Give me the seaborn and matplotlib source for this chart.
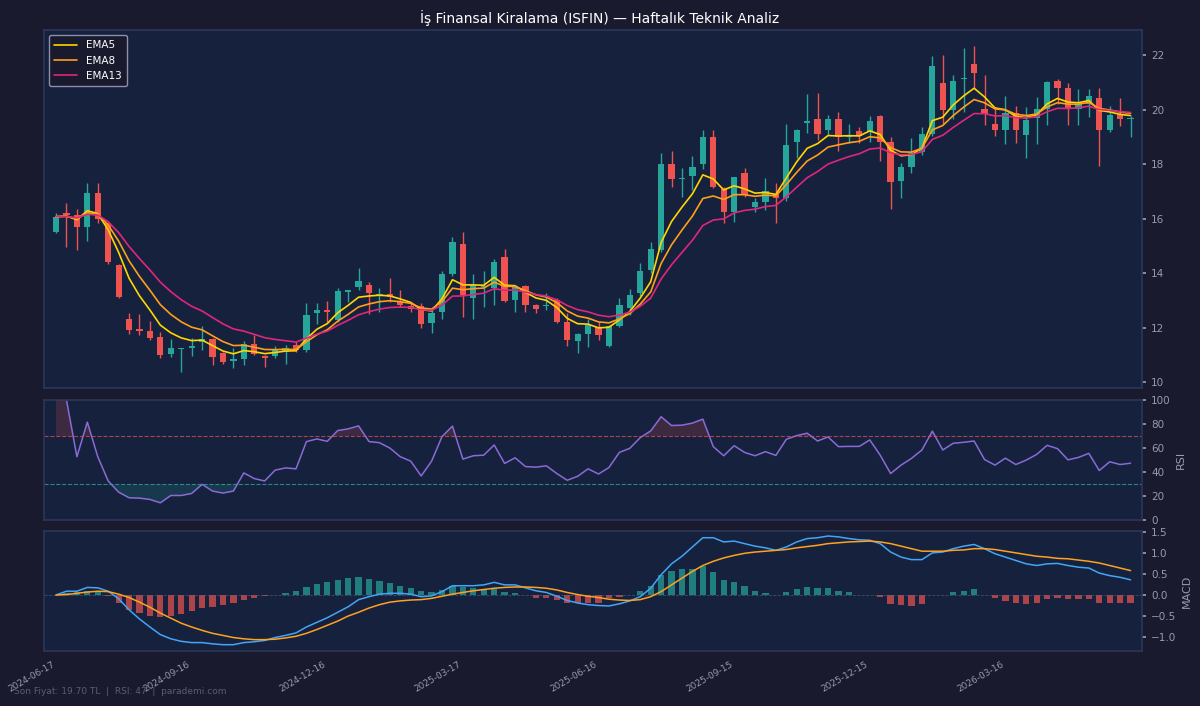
import numpy as np
import pandas as pd
import seaborn as sns
import matplotlib
matplotlib.use("Agg")
import matplotlib.pyplot as plt

# Weekly candles (TL)
opens = [
    15.52, 16.21, 16.13, 15.68, 16.95, 15.85, 14.30, 12.31, 11.94, 11.87,
    11.64, 11.03, 11.22, 11.24, 11.48, 11.58, 11.07, 10.76, 10.83, 11.41,
    10.97, 10.97, 11.12, 11.36, 11.17, 12.52, 12.64, 12.28, 13.30, 13.50,
    13.56, 13.20, 13.22, 12.95, 12.80, 12.80, 12.15, 12.58, 13.95, 15.06,
    13.07, 13.48, 13.44, 14.60, 13.00, 13.52, 12.83, 12.78, 13.00, 12.21,
    11.52, 11.77, 12.03, 11.32, 12.05, 12.71, 13.25, 14.10, 14.84, 18.00,
    17.45, 17.56, 18.00, 19.00, 17.07, 16.25, 17.66, 16.41, 16.62, 16.90,
    16.74, 18.82, 19.52, 19.64, 19.25, 19.64, 19.00, 19.20, 19.19, 19.76,
    18.80, 17.39, 17.90, 18.45, 19.10, 20.96, 19.98, 21.12, 21.67, 20.01,
    19.49, 19.27, 19.86, 19.06, 19.71, 20.01, 21.06, 20.81, 20.01, 20.20,
    20.41, 19.25, 19.80, 19.66,
]
highs = [
    16.19, 16.59, 16.34, 17.29, 17.29, 15.89, 14.33, 12.54, 12.49, 12.25,
    11.85, 11.57, 11.26, 11.60, 12.07, 11.60, 11.10, 11.24, 11.52, 11.72,
    11.00, 11.32, 11.36, 11.48, 12.89, 12.91, 12.99, 13.44, 13.39, 14.20,
    13.68, 13.44, 13.83, 13.39, 12.91, 12.91, 12.70, 14.07, 15.31, 15.49,
    13.97, 14.08, 14.51, 14.87, 13.56, 13.56, 12.85, 13.28, 13.07, 12.52,
    11.80, 12.30, 12.21, 12.09, 13.07, 13.40, 14.38, 15.15, 18.39, 18.49,
    17.84, 18.29, 19.27, 19.27, 17.15, 17.54, 17.84, 16.74, 17.48, 17.29,
    19.49, 19.30, 20.57, 20.62, 19.80, 19.90, 19.49, 19.37, 19.76, 19.82,
    19.00, 18.05, 18.94, 19.37, 21.96, 22.00, 21.27, 22.25, 22.33, 21.27,
    20.10, 20.50, 20.13, 20.08, 20.45, 21.06, 21.11, 20.98, 20.74, 20.74,
    20.81, 20.13, 20.41, 19.75,
]
lows = [
    15.46, 14.94, 14.84, 15.19, 15.82, 14.35, 13.08, 11.76, 11.72, 11.56,
    10.87, 10.93, 10.36, 10.96, 11.17, 10.62, 10.65, 10.50, 10.62, 11.00,
    10.56, 10.87, 10.68, 11.12, 11.12, 12.13, 12.21, 12.21, 12.95, 13.39,
    12.48, 12.58, 12.95, 12.77, 12.58, 11.97, 11.81, 12.30, 13.89, 12.40,
    12.30, 12.77, 12.81, 12.95, 12.58, 12.58, 12.52, 12.64, 12.15, 11.32,
    11.05, 11.30, 11.56, 11.30, 12.03, 12.46, 13.14, 14.01, 14.78, 17.15,
    16.80, 17.05, 17.81, 17.11, 15.82, 15.89, 16.78, 16.25, 16.31, 15.82,
    16.66, 18.21, 19.13, 18.88, 19.06, 18.49, 18.76, 18.76, 18.82, 18.12,
    16.34, 16.74, 17.68, 18.32, 19.03, 19.49, 19.64, 19.90, 20.81, 19.44,
    19.03, 18.73, 18.78, 18.21, 18.73, 19.44, 20.20, 19.43, 19.43, 19.74,
    17.93, 19.19, 19.39, 18.98,
]
closes = [
    16.07, 16.13, 15.70, 16.95, 15.97, 14.39, 13.11, 11.91, 11.87, 11.60,
    10.98, 11.24, 11.25, 11.32, 11.58, 10.93, 10.74, 10.83, 11.39, 11.03,
    10.90, 11.17, 11.24, 11.17, 12.46, 12.64, 12.56, 13.34, 13.36, 13.71,
    13.25, 13.24, 13.11, 12.83, 12.67, 12.13, 12.52, 13.95, 15.15, 13.19,
    13.56, 13.53, 14.42, 12.98, 13.50, 12.81, 12.67, 12.82, 12.21, 11.54,
    11.75, 12.09, 11.72, 12.05, 12.83, 13.19, 14.08, 14.87, 18.00, 17.44,
    17.48, 17.88, 19.00, 17.15, 16.25, 17.51, 16.86, 16.62, 17.01, 16.74,
    18.70, 19.27, 19.57, 19.10, 19.64, 19.00, 19.06, 19.02, 19.59, 18.82,
    17.35, 17.90, 18.41, 19.10, 21.60, 19.98, 21.06, 21.17, 21.35, 19.83,
    19.25, 19.86, 19.27, 19.61, 20.04, 21.00, 20.81, 20.01, 20.20, 20.50,
    19.25, 19.80, 19.64, 19.70,
]

rsi_vals = [
    100, 100, 52.7, 81.5, 52.7, 32.5, 23.2, 18.5, 18.2, 17.1,
    14.3, 20.4, 20.4, 22.1, 29.7, 24.1, 22.4, 24.1, 39.2, 34.5,
    32.5, 41.5, 43.4, 42.6, 65.3, 67.5, 65.5, 74.5, 75.9, 78.4,
    65.3, 64.4, 59.9, 52.7, 49.0, 36.7, 49.0, 69.5, 78.2, 50.7,
    53.5, 54.0, 62.5, 47.1, 51.8, 44.5, 44.0, 45.1, 38.7, 33.1,
    36.4, 42.6, 38.3, 43.7, 56.3, 59.7, 68.6, 74.2, 86.0, 78.7,
    79.0, 80.7, 84.0, 61.1, 53.5, 61.9, 56.3, 53.5, 56.9, 53.8,
    67.2, 70.3, 72.3, 65.8, 69.2, 61.1, 61.3, 61.3, 66.7, 54.0,
    38.7, 45.7, 51.3, 58.3, 74.0, 58.3, 63.9, 64.7, 65.8, 50.4,
    45.7, 51.5, 46.2, 49.9, 54.6, 62.2, 59.4, 50.1, 52.1, 55.5,
    41.2, 48.5, 46.2, 47.3,
]
macd_vals = [
    0.00, 0.09, 0.09, 0.18, 0.17, 0.09, -0.09, -0.35, -0.57, -0.76,
    -0.94, -1.04, -1.10, -1.13, -1.13, -1.16, -1.18, -1.18, -1.13, -1.11,
    -1.08, -1.01, -0.96, -0.90, -0.76, -0.65, -0.54, -0.41, -0.28, -0.11,
    -0.04, 0.02, 0.04, 0.04, 0.02, -0.04, -0.02, 0.08, 0.22, 0.22,
    0.22, 0.24, 0.30, 0.24, 0.24, 0.17, 0.10, 0.06, -0.03, -0.13,
    -0.19, -0.23, -0.25, -0.26, -0.21, -0.14, -0.04, 0.16, 0.48, 0.74,
    0.92, 1.14, 1.36, 1.36, 1.26, 1.28, 1.22, 1.16, 1.12, 1.06,
    1.14, 1.26, 1.34, 1.36, 1.40, 1.38, 1.34, 1.31, 1.30, 1.22,
    1.02, 0.90, 0.84, 0.84, 1.00, 1.02, 1.10, 1.16, 1.20, 1.10,
    0.98, 0.90, 0.82, 0.74, 0.70, 0.74, 0.75, 0.70, 0.66, 0.64,
    0.52, 0.46, 0.42, 0.36,
]
signal_vals = [
    0.00, 0.01, 0.04, 0.07, 0.09, 0.08, 0.02, -0.06, -0.17, -0.29,
    -0.43, -0.55, -0.67, -0.76, -0.84, -0.91, -0.96, -1.01, -1.04, -1.06,
    -1.06, -1.05, -1.02, -0.98, -0.91, -0.82, -0.72, -0.62, -0.50, -0.41,
    -0.31, -0.23, -0.17, -0.14, -0.12, -0.11, -0.08, -0.03, 0.02, 0.06,
    0.10, 0.13, 0.16, 0.18, 0.19, 0.19, 0.18, 0.16, 0.12, 0.06,
    0.01, -0.03, -0.06, -0.10, -0.12, -0.13, -0.11, -0.04, 0.08, 0.24,
    0.40, 0.56, 0.70, 0.80, 0.88, 0.94, 0.99, 1.02, 1.04, 1.06,
    1.08, 1.12, 1.15, 1.18, 1.22, 1.24, 1.26, 1.27, 1.28, 1.26,
    1.22, 1.16, 1.10, 1.04, 1.04, 1.04, 1.06, 1.07, 1.10, 1.10,
    1.08, 1.04, 1.00, 0.96, 0.92, 0.90, 0.87, 0.86, 0.83, 0.80,
    0.76, 0.70, 0.64, 0.58,
]
hist_vals = [
    0.01, 0.04, 0.06, 0.10, 0.09, -0.03, -0.19, -0.35, -0.43, -0.49,
    -0.53, -0.50, -0.45, -0.39, -0.31, -0.28, -0.24, -0.20, -0.13, -0.06,
    -0.03, 0.01, 0.04, 0.09, 0.20, 0.26, 0.30, 0.36, 0.40, 0.43,
    0.39, 0.34, 0.28, 0.22, 0.17, 0.09, 0.06, 0.13, 0.22, 0.20,
    0.16, 0.12, 0.14, 0.06, 0.05, 0.00, -0.06, -0.07, -0.13, -0.19,
    -0.20, -0.20, -0.18, -0.08, -0.05, -0.01, 0.10, 0.22, 0.48, 0.58,
    0.62, 0.62, 0.68, 0.54, 0.36, 0.30, 0.22, 0.10, 0.04, 0.00,
    0.06, 0.14, 0.18, 0.16, 0.16, 0.10, 0.06, 0.00, 0.00, -0.04,
    -0.22, -0.24, -0.26, -0.22, 0.00, 0.00, 0.06, 0.10, 0.14, 0.00,
    -0.08, -0.14, -0.18, -0.22, -0.18, -0.10, -0.06, -0.10, -0.10, -0.10,
    -0.18, -0.18, -0.18, -0.18,
]

start_date = "2024-06-17"
tick_every = 13
ema_spans = [5, 8, 13]

BG = "#1a1a2e"
PANEL = "#16213e"
UP = "#26a69a"
DOWN = "#ef5350"
TXT = "#9a9aae"
EDGE = "#2b3556"

sns.set_theme(style="dark", rc={
    "figure.facecolor": BG, "axes.facecolor": PANEL, "axes.edgecolor": EDGE,
    "xtick.color": TXT, "ytick.color": TXT, "axes.labelcolor": TXT,
    "text.color": "white", "patch.edgecolor": "none",
})
plt.rcParams["font.family"] = ["DejaVu Sans"]

n = len(closes)
dates = pd.date_range(start_date, periods=n, freq="7D")
df = pd.DataFrame({"i": np.arange(n), "open": opens, "high": highs,
                   "low": lows, "close": closes, "rsi": rsi_vals,
                   "macd": macd_vals, "signal": signal_vals, "hist": hist_vals})
for s in ema_spans:
    df[f"EMA{s}"] = df["close"].ewm(span=s, adjust=False).mean()

fig = plt.figure(figsize=(12, 7.06), dpi=100)
ax1 = fig.add_axes([0.0367, 0.4504, 0.915, 0.507])
ax2 = fig.add_axes([0.0367, 0.2635, 0.915, 0.170], sharex=ax1)
ax3 = fig.add_axes([0.0367, 0.0779, 0.915, 0.170], sharex=ax1)

# candles
up = df["close"] >= df["open"]
ccol = np.where(up, UP, DOWN)
ax1.vlines(df["i"], df["low"], df["high"], colors=ccol, lw=1, zorder=2)
body_h = (df["close"] - df["open"]).abs().clip(lower=0.04)
body_b = df[["open", "close"]].min(axis=1)
ax1.bar(df["i"], body_h, bottom=body_b, width=0.6, color=ccol,
        edgecolor="none", linewidth=0, zorder=3)

ema = df.melt(id_vars="i", value_vars=[f"EMA{s}" for s in ema_spans],
              var_name="EMA", value_name="val")
sns.lineplot(data=ema, x="i", y="val", hue="EMA", ax=ax1, lw=1.2, zorder=4,
             palette={"EMA5": "#ffd600", "EMA8": "#ff9f1a", "EMA13": "#e0267a"})
leg = ax1.legend(loc="upper left", fontsize=7.5, facecolor=BG, edgecolor="#8d8fa8",
                 framealpha=1, handlelength=2.2, borderpad=0.5)
for t in leg.get_texts():
    t.set_color("white")
ax1.set_ylim(9.78, 22.92)
ax1.set_yticks([10, 12, 14, 16, 18, 20, 22])

# RSI
sns.lineplot(data=df, x="i", y="rsi", ax=ax2, color="#8a6bd6", lw=1.1)
ax2.axhline(70, color=DOWN, lw=0.8, ls="--", alpha=0.7)
ax2.axhline(30, color=UP, lw=0.8, ls="--", alpha=0.8)
ax2.fill_between(df["i"], 70, df["rsi"], where=df["rsi"] >= 70,
                 interpolate=True, color=DOWN, alpha=0.18, lw=0)
ax2.fill_between(df["i"], 30, df["rsi"], where=df["rsi"] <= 30,
                 interpolate=True, color=UP, alpha=0.18, lw=0)
ax2.set_ylim(0, 100)
ax2.set_yticks([0, 20, 40, 60, 80, 100])
ax2.set_ylabel("RSI", fontsize=8)

# MACD
hcol = np.where(df["hist"] >= 0, UP, DOWN)
ax3.bar(df["i"], df["hist"], width=0.6, color=hcol, alpha=0.7,
        edgecolor="none", linewidth=0)
ax3.axhline(0, color="#56607e", lw=0.6, ls="--", alpha=0.7)
sns.lineplot(data=df, x="i", y="macd", ax=ax3, color="#42a5f5", lw=1.1)
sns.lineplot(data=df, x="i", y="signal", ax=ax3, color="#ffa21f", lw=1.1)
ax3.set_ylim(-1.33, 1.52)
ax3.set_yticks([-1.0, -0.5, 0.0, 0.5, 1.0, 1.5])
ax3.set_ylabel("MACD", fontsize=8)

ticks = list(range(0, n, tick_every))
for ax in (ax1, ax2, ax3):
    ax.set_xlim(-1.15, 104.1)
    ax.yaxis.tick_right()
    ax.yaxis.set_label_position("right")
    ax.tick_params(axis="y", labelsize=7.5, length=3, color=TXT)
    ax.tick_params(axis="x", labelsize=6.5, length=3, color=TXT)
    for sp in ax.spines.values():
        sp.set_color(EDGE)
    ax.set_xlabel("")
ax1.set_ylabel("")
ax3.set_xticks(ticks)
ax3.set_xticklabels([dates[k].strftime("%Y-%m-%d") for k in ticks],
                    rotation=30, ha="right")
ax1.tick_params(axis="x", bottom=False, labelbottom=False)
ax2.tick_params(axis="x", bottom=False, labelbottom=False)

fig.text(0.5, 0.9745, "İş Finansal Kiralama (ISFIN) — Haftalık Teknik Analiz",
         ha="center", va="center", color="white", fontsize=10)
fig.text(0.012, 0.021, "Son Fiyat: 19.70 TL  |  RSI: 47  |  parademi.com",
         ha="left", va="center", color="#5c5c72", fontsize=6.5)

fig.savefig("out.png", dpi=100, facecolor=BG)
